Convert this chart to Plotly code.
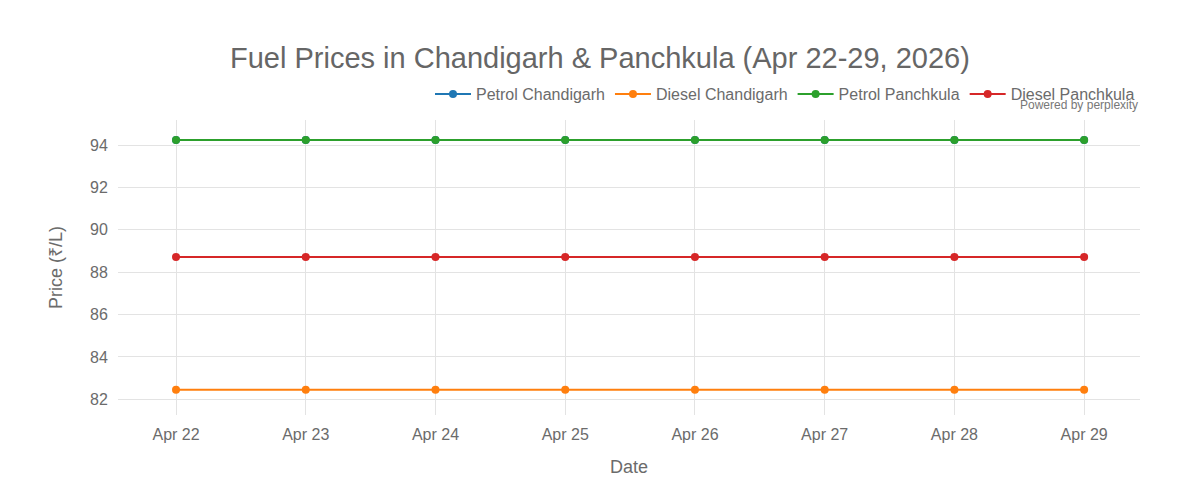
import plotly.graph_objects as go

# daily fuel prices, Rs per litre
dates = ["2026-04-22", "2026-04-23", "2026-04-24", "2026-04-25",
         "2026-04-26", "2026-04-27", "2026-04-28", "2026-04-29"]
petrol_chd = [94.24, 94.24, 94.24, 94.24, 94.24, 94.24, 94.24, 94.24]
diesel_chd = [82.45, 82.45, 82.45, 82.45, 82.45, 82.45, 82.45, 82.45]
petrol_pkl = [94.24, 94.24, 94.24, 94.24, 94.24, 94.24, 94.24, 94.24]
diesel_pkl = [88.72, 88.72, 88.72, 88.72, 88.72, 88.72, 88.72, 88.72]

series = [
    ("Petrol Chandigarh", petrol_chd, "#1f77b4"),
    ("Diesel Chandigarh", diesel_chd, "#ff7f0e"),
    ("Petrol Panchkula", petrol_pkl, "#2ca02c"),
    ("Diesel Panchkula", diesel_pkl, "#d62728"),
]

font_family = "Liberation Sans, Arial, sans-serif"
grey = "#6b6b6b"

fig = go.Figure()
for name, vals, col in series:
    fig.add_trace(go.Scatter(
        x=dates, y=vals, mode="lines+markers", name=name,
        line=dict(color=col, width=2), marker=dict(color=col, size=8),
    ))

# page body adds 8px margin, so everything is nudged up/left by 8px
fig.update_layout(
    width=1200, height=500,
    title=dict(text="Fuel Prices in Chandigarh & Panchkula (Apr 22-29, 2026)",
               x=0.4933, xanchor="center", y=0.9, yanchor="middle",
               font=dict(size=29, color="#666666", family=font_family)),
    font=dict(family=font_family, color=grey, size=16),
    plot_bgcolor="white", paper_bgcolor="white",
    margin=dict(l=110, r=68, t=112, b=93),
    legend=dict(orientation="h", x=1, xanchor="right", y=1.03, yanchor="bottom",
                font=dict(size=16, color=grey), itemwidth=36),
    xaxis=dict(title=dict(text="Date", font=dict(size=18), standoff=18),
               type="date", tickformat="%b %d",
               range=["2026-04-21 13:16", "2026-04-29 10:20"],
               dtick=86400000, showgrid=True, gridcolor="#e3e3e3",
               ticks="outside", ticklen=5, tickcolor="white"),
    yaxis=dict(title=dict(text="Price (₹/L)", font=dict(size=18), standoff=22),
               range=[81.26, 95.18], dtick=2, showgrid=True, gridcolor="#e3e3e3",
               zeroline=False, ticks="outside", ticklen=6, tickcolor="white"),
)

fig.add_annotation(text="Powered by perplexity", xref="paper", yref="paper",
                   x=1, y=1.022, xanchor="right", yanchor="bottom",
                   showarrow=False, font=dict(size=12, color="#777777"))

fig.write_html("out.html")
